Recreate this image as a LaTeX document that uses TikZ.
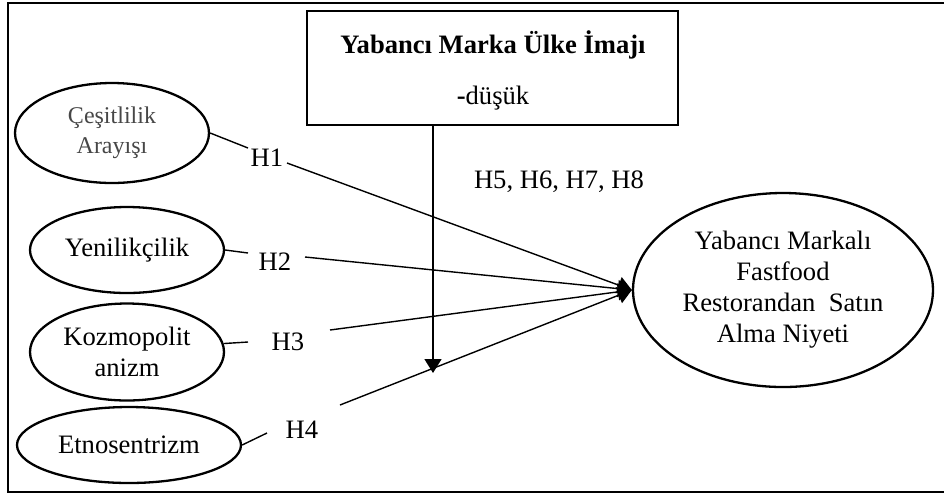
\documentclass[tikz,border=0pt]{standalone}
\usepackage{fontspec}
\setmainfont{Liberation Serif}
\usetikzlibrary{arrows.meta,shapes.geometric}
\begin{document}
\begin{tikzpicture}[x=0.5pt,y=-0.5pt,
  every node/.style={font=\fontsize{13.3}{15.5}\selectfont},
  oval/.style={ellipse,draw,line width=1.15pt,inner sep=0pt,align=center},
  hyp/.style={inner sep=1pt},
  link/.style={line width=0.7pt},
  flow/.style={link,-{Triangle[length=7pt,width=8.5pt]}}]
\useasboundingbox (0,0) rectangle (944,495);
% outer frame (right side runs off the page)
\draw[line width=1.2pt] (950,3) -- (8,3) -- (8,492) -- (950,492);

% moderator box
\node[draw,line width=1.3pt,minimum width=185.5pt,minimum height=57pt,inner sep=0pt] (img) at (492.5,68) {};
\node[anchor=base] (imgt) at (493,53) {\textbf{Yabancı Marka Ülke İmajı}};
\node[anchor=base] (imgs) at (493,104) {\textbf{-}düşük};

% independent constructs
\node[oval,minimum width=97pt,minimum height=50pt,text=black!72,
      font=\fontsize{12}{15}\selectfont] (e1) at (112,133) {Çeşitlilik\\Arayışı};
\node[oval,minimum width=97pt,minimum height=43pt] (e2) at (127,250) {Yenilikçilik};
\node[oval,minimum width=97pt,minimum height=48.5pt] (e3) at (127,352) {Kozmopolit\\anizm};
\node[oval,minimum width=112pt,minimum height=38pt] (e4) at (129,445) {Etnosentrizm};

% dependent construct
\node[oval,minimum width=150pt,minimum height=97pt] (buy) at (783,290)
  {Yabancı Markalı\\Fastfood\\Restorandan\ \ Satın\\Alma Niyeti};

% hypothesis labels
\node[hyp] (h1) at (267,158) {H1};
\node[hyp] (h2) at (275,262) {H2};
\node[hyp] (h3) at (288,342) {H3};
\node[hyp] (h4) at (302,430) {H4};
\node[hyp] (h5) at (559,182) {H5, H6, H7, H8};

% break points of the paths around the labels
\coordinate (p1) at (248,148); \coordinate (q1) at (287,163);
\coordinate (p2) at (248,253); \coordinate (q2) at (305,257);
\coordinate (p3) at (248,342); \coordinate (q3) at (330,330);
\coordinate (p4) at (267,433); \coordinate (q4) at (340,405);
\coordinate (vt) at (433,373);

% paths
\draw[link] (e1.east) -- (p1);
\draw[flow] (q1) -- (buy.west);
\draw[link] (e2.east) -- (p2);
\draw[flow] (q2) -- (buy.west);
\draw[link] (e3.5) -- (p3);
\draw[flow] (q3) -- (buy.west);
\draw[link] (e4.east) -- (p4);
\draw[flow] (q4) -- (buy.west);

% moderating effect
\draw[flow] (img.south -| vt) -- (vt);
\end{tikzpicture}
\end{document}
